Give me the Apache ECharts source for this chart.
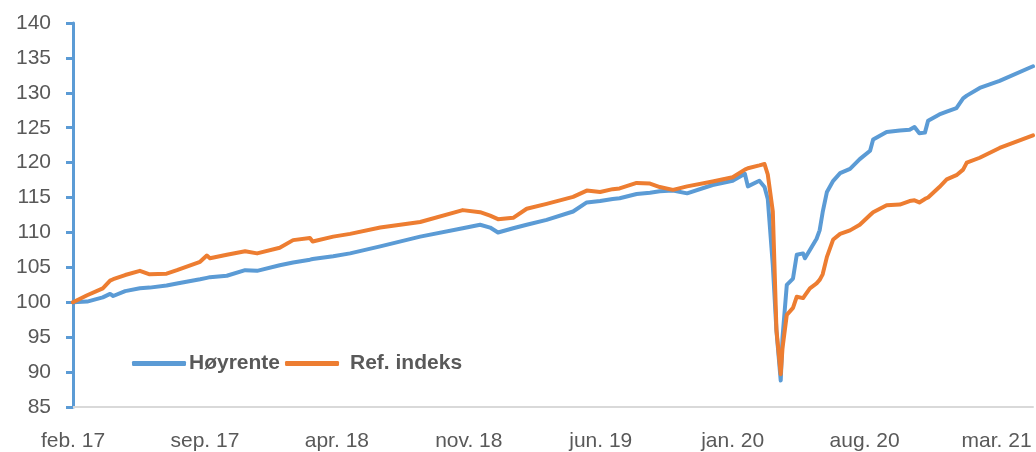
<!DOCTYPE html>
<html>
<head>
<meta charset="utf-8">
<script src="https://cdn.jsdelivr.net/npm/echarts@6/dist/echarts.min.js"></script>
<style>
  html, body { margin: 0; padding: 0; background: #fff; }
  #myChart { width: 1036px; height: 452px; }
</style>
</head>
<body>
<div id="myChart"></div>
<script>
// datoer lest av bildet
const dates = [
  '2017-02-01', '2017-02-22', '2017-03-19', '2017-03-31', '2017-04-05', '2017-04-24',
  '2017-05-18', '2017-06-03', '2017-06-30', '2017-07-17', '2017-08-24', '2017-09-04',
  '2017-09-09', '2017-10-06', '2017-11-05', '2017-11-24', '2017-12-31', '2018-01-22',
  '2018-02-17', '2018-02-21', '2018-03-26', '2018-04-22', '2018-06-10', '2018-08-14',
  '2018-10-22', '2018-11-19', '2018-12-05', '2018-12-18', '2019-01-12', '2019-02-03',
  '2019-03-05', '2019-04-17', '2019-05-09', '2019-05-31', '2019-06-20', '2019-07-01',
  '2019-07-29', '2019-08-20', '2019-09-05', '2019-09-26', '2019-10-19', '2019-11-29',
  '2020-01-01', '2020-01-21', '2020-01-26', '2020-02-13', '2020-02-21', '2020-02-26',
  '2020-03-05', '2020-03-11', '2020-03-18', '2020-03-21', '2020-03-28', '2020-04-07',
  '2020-04-13', '2020-04-23', '2020-04-26', '2020-05-04', '2020-05-15', '2020-05-20',
  '2020-05-25', '2020-06-01', '2020-06-11', '2020-06-22', '2020-07-08', '2020-07-24',
  '2020-08-10', '2020-08-15', '2020-09-06', '2020-09-27', '2020-10-13', '2020-10-21',
  '2020-10-29', '2020-11-07', '2020-11-12', '2020-11-30', '2020-12-12', '2020-12-28',
  '2021-01-08', '2021-01-14', '2021-02-04', '2021-03-06', '2021-04-29'
]

const hoyrente = [
  100.0, 100.1, 100.7, 101.2, 100.9, 101.6,
  102.0, 102.1, 102.4, 102.7, 103.3, 103.5,
  103.6, 103.8, 104.6, 104.5, 105.3, 105.7,
  106.1, 106.2, 106.6, 107.0, 108.0, 109.4,
  110.6, 111.1, 110.7, 110.0, 110.6, 111.1,
  111.8, 113.0, 114.3, 114.5, 114.8, 114.9,
  115.5, 115.7, 115.9, 116.0, 115.6, 116.8,
  117.4, 118.4, 116.6, 117.4, 116.5, 114.8,
  105.3, 95.9, 88.8, 95.0, 102.5, 103.4,
  106.8, 107.0, 106.3, 107.5, 109.1, 110.3,
  112.9, 115.8, 117.4, 118.5, 119.1, 120.5,
  121.7, 123.3, 124.4, 124.6, 124.7, 125.1,
  124.2, 124.3, 126.0, 126.9, 127.3, 127.8,
  129.2, 129.6, 130.7, 131.7, 133.8
]

const refIndeks = [
  100.0, 101.0, 102.0, 103.1, 103.3, 103.9,
  104.5, 104.0, 104.1, 104.6, 105.8, 106.7,
  106.3, 106.8, 107.3, 107.0, 107.8, 108.9,
  109.2, 108.7, 109.4, 109.8, 110.7, 111.5,
  113.2, 112.9, 112.4, 111.9, 112.1, 113.4,
  114.1, 115.1, 116.0, 115.8, 116.2, 116.3,
  117.1, 117.0, 116.5, 116.1, 116.6, 117.3,
  117.9, 119.0, 119.2, 119.6, 119.8, 118.3,
  113.0, 96.0, 89.7, 93.5, 98.2, 99.2,
  100.8, 100.6, 101.0, 102.0, 102.7, 103.2,
  104.0, 106.5, 109.0, 109.8, 110.3, 111.1,
  112.5, 112.9, 113.9, 114.0, 114.5, 114.6,
  114.3, 114.8, 115.0, 116.5, 117.6, 118.2,
  119.0, 120.0, 120.7, 122.1, 123.9
]

const xTickLabels = ['feb. 17', 'sep. 17', 'apr. 18', 'nov. 18', 'jun. 19', 'jan. 20', 'aug. 20', 'mar. 21']

// måneder siden feb. 17
function monthIndex(d) {
  let [y, m, day] = d.split('-').map(Number)
  let dim = new Date(y, m, 0).getDate()
  return (y - 2017) * 12 + (m - 2) + (day - 1) / dim
}

let xs = dates.map(monthIndex)
let lastX = xs[xs.length - 1]

let myChart = echarts.init(document.getElementById('myChart'))
myChart.setOption({
  animation: false,
  textStyle: { fontFamily: 'Liberation Sans, Arial, sans-serif' },
  grid: { left: 73, right: 3, top: 23, bottom: 41 },
  legend: {
    left: 132,
    top: 353,
    padding: 0,
    itemWidth: 54,
    itemHeight: 5,
    itemGap: 5,
    icon: 'roundRect',
    textStyle: { color: '#595959', fontSize: 21, fontWeight: 'bold', padding: [0, 0, 0, -2] },
    data: [
      { name: 'Høyrente' },
      { name: 'Ref. indeks', textStyle: { padding: [0, 0, 0, 6] } }
    ]
  },
  xAxis: {
    type: 'value',
    min: 0,
    max: lastX,
    interval: 7,
    axisLine: { lineStyle: { color: '#d9d9d9', width: 2 } },
    axisTick: { show: false },
    splitLine: { show: false },
    axisLabel: {
      color: '#595959',
      fontSize: 21,
      margin: 24,
      showMaxLabel: false,
      formatter: function (v) {
        let i = Math.round(v / 7)
        if (Math.abs(v - i * 7) > 1e-6) return ''
        return xTickLabels[i] || ''
      }
    }
  },
  yAxis: {
    type: 'value',
    min: 85,
    max: 140,
    interval: 5,
    axisLine: { show: true, lineStyle: { color: '#5b9bd5', width: 3 } },
    axisTick: { show: true, length: 7, lineStyle: { color: '#5b9bd5', width: 3 } },
    splitLine: { show: false },
    axisLabel: { color: '#595959', fontSize: 21, margin: 22 }
  },
  series: [
    {
      name: 'Høyrente',
      type: 'line',
      showSymbol: false,
      color: '#5b9bd5',
      lineStyle: { width: 4, cap: 'round', join: 'round' },
      data: xs.map((x, i) => [x, hoyrente[i]])
    },
    {
      name: 'Ref. indeks',
      type: 'line',
      showSymbol: false,
      color: '#ed7d31',
      lineStyle: { width: 4, cap: 'round', join: 'round' },
      data: xs.map((x, i) => [x, refIndeks[i]])
    }
  ]
})
</script>
</body>
</html>
